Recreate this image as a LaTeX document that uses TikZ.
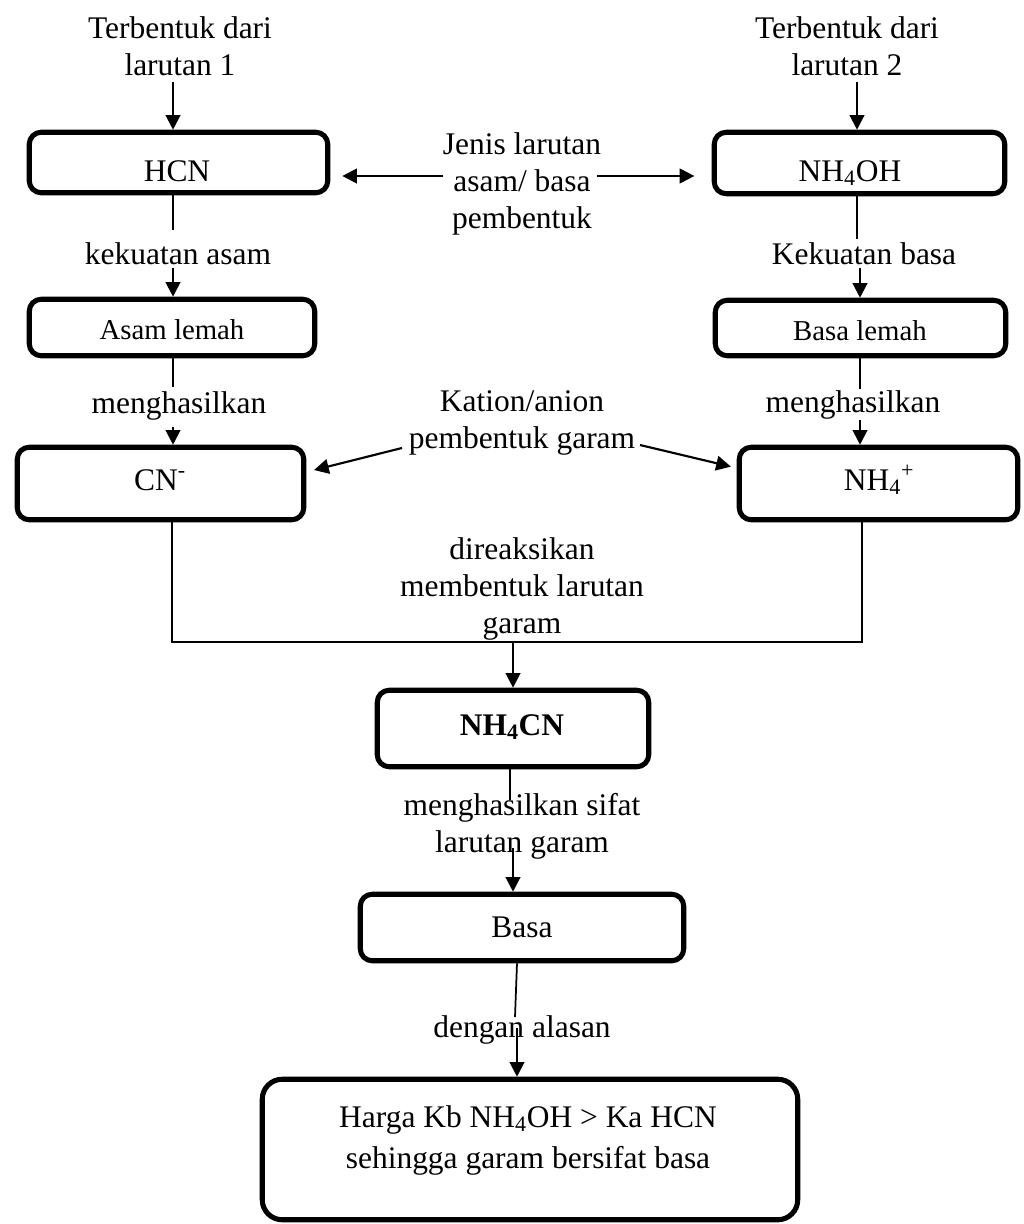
\documentclass[tikz,border=0pt]{standalone}
\usepackage{fontspec}
\setmainfont{Liberation Serif}
\usetikzlibrary{arrows.meta,calc}
\begin{document}
\begin{tikzpicture}[x=0.75pt,y=-0.75pt,
  box/.style={draw,line width=3.8pt,rounded corners=9pt,inner sep=0pt},
  txt/.style={font=\fontsize{23.6pt}{27.75pt}\selectfont,align=center,inner sep=0pt,anchor=base},
  smalltxt/.style={font=\fontsize{21.6pt}{25pt}\selectfont,inner sep=0pt,anchor=base},
  arr/.style={line width=1.6pt,-{Triangle[length=11pt,width=11pt]}},
  ln/.style={line width=1.3pt}]
\useasboundingbox (0,0) rectangle (1024,1224);

% boxes
\node[box,minimum width=223.9pt,minimum height=45.4pt] (hcn) at (178.5,162.5) {};
\node[box,minimum width=217.9pt,minimum height=46.1pt] (nh4oh) at (859.5,163) {};
\node[box,minimum width=214.1pt,minimum height=42.4pt] (asam) at (172,327.5) {};
\node[box,minimum width=217.9pt,minimum height=41.6pt] (basal) at (860.5,328) {};
\node[box,minimum width=214.9pt,minimum height=54.4pt] (cn) at (160.5,483.5) {};
\node[box,minimum width=208.9pt,minimum height=54.4pt] (nh4) at (878.5,483.5) {};
\node[box,minimum width=203.6pt,minimum height=57.4pt] (nh4cn) at (513,728.5) {};
\node[box,minimum width=242.6pt,minimum height=49.9pt] (basa) at (522,927.5) {};
\node[box,minimum width=401.6pt,minimum height=105.4pt,rounded corners=15pt] (bot) at (530,1149.5) {};

% box labels
\node[txt] (hcnlab) at (177,181) {HCN};
\node[txt] (nh4ohlab) at (850,181) {NH\textsubscript{4}OH};
\node[smalltxt] (asamlab) at (172,339) {Asam lemah};
\node[smalltxt] (basallab) at (860,340) {Basa lemah};
\node[txt] (cnlab) at (160,490) {CN\textsuperscript{-}};
\node[txt] (nh4lab) at (879,490) {NH\textsubscript{4}\textsuperscript{+}};
\node[txt] (nh4cnlab) at (512,735) {\textbf{NH\textsubscript{4}CN}};
\node[txt] (basalab) at (522,937) {Basa};
\node[txt,font=\fontsize{23.6pt}{30.75pt}\selectfont] (botlab) at (528,1168) {Harga Kb NH\textsubscript{4}OH {>} Ka HCN\\sehingga garam bersifat basa};

% free texts (anchor base = baseline of last line)
\node[txt] (t1) at (180,75) {Terbentuk dari\\larutan 1};
\node[txt] (t2) at (847,75) {Terbentuk dari\\larutan 2};
\node[txt] (jenis) at (522,228) {Jenis larutan\\asam/ basa\\pembentuk};
\node[txt] (kekA) at (178,264) {kekuatan asam};
\node[txt] (kekB) at (864,264) {Kekuatan basa};
\node[txt] (mhA) at (179,413) {menghasilkan};
\node[txt] (mhB) at (853,412) {menghasilkan};
\node[txt] (kation) at (522,448) {Kation/anion\\pembentuk garam};
\node[txt] (reaksi) at (522,633) {direaksikan\\membentuk larutan\\garam};
\node[txt] (sifat) at (522,852) {menghasilkan sifat\\larutan garam};
\node[txt] (alasan) at (522,1037) {dengan alasan};

% connectors
\coordinate (s1) at (173,82);
\draw[arr] (s1) -- (s1 |- hcn.north);
\coordinate (s2) at (857,82);
\draw[arr] (s2) -- (s2 |- nh4oh.north);
\coordinate (e3) at (173,230);
\draw[ln] (e3 |- hcn.south) -- (e3);
\coordinate (s4) at (173,268);
\draw[arr] (s4) -- (s4 |- asam.north);
\coordinate (e5) at (857,239);
\draw[ln] (e5 |- nh4oh.south) -- (e5);
\coordinate (s6) at (860,268);
\draw[arr] (s6) -- (s6 |- basal.north);
\coordinate (e7) at (173,387);
\draw[ln] (e7 |- asam.south) -- (e7);
\coordinate (s8) at (173,427);
\draw[arr] (s8) -- (s8 |- cn.north);
\coordinate (e9) at (860,389);
\draw[ln] (e9 |- basal.south) -- (e9);
\coordinate (s10) at (860,420);
\draw[arr] (s10) -- (s10 |- nh4.north);

\coordinate (j1) at (443,176);
\draw[arr,shorten >=9pt] (j1) -- (j1 -| hcn.east);
\coordinate (j2) at (597,176);
\draw[arr,shorten >=13pt] (j2) -- (j2 -| nh4oh.west);

\coordinate (k1) at (402,448);
\draw[arr,shorten >=6pt] (k1) -- ($(cn.east)+(0,-11.5)$);
\coordinate (k2) at (640,445);
\draw[arr,shorten >=4.5pt] (k2) -- ($(nh4.west)+(0,-15.5)$);

\coordinate (ml) at (172,642);
\coordinate (mr) at (862,642);
\draw[ln] (ml |- cn.south) -- (ml) -- (mr) -- (mr |- nh4.south);
\coordinate (m) at (513,642);
\draw[arr] (m) -- (m |- nh4cn.north);
\coordinate (e11) at (510,800);
\draw[ln] (e11 |- nh4cn.south) -- (e11);
\coordinate (s12) at (513,848);
\draw[arr] (s12) -- (s12 |- basa.north);
\coordinate (e13) at (515,1017);
\draw[ln] ($(basa.south)+(-5,0)$) -- (e13);
\coordinate (s14) at (517,1028);
\draw[arr] (s14) -- (s14 |- bot.north);
\end{tikzpicture}
\end{document}
